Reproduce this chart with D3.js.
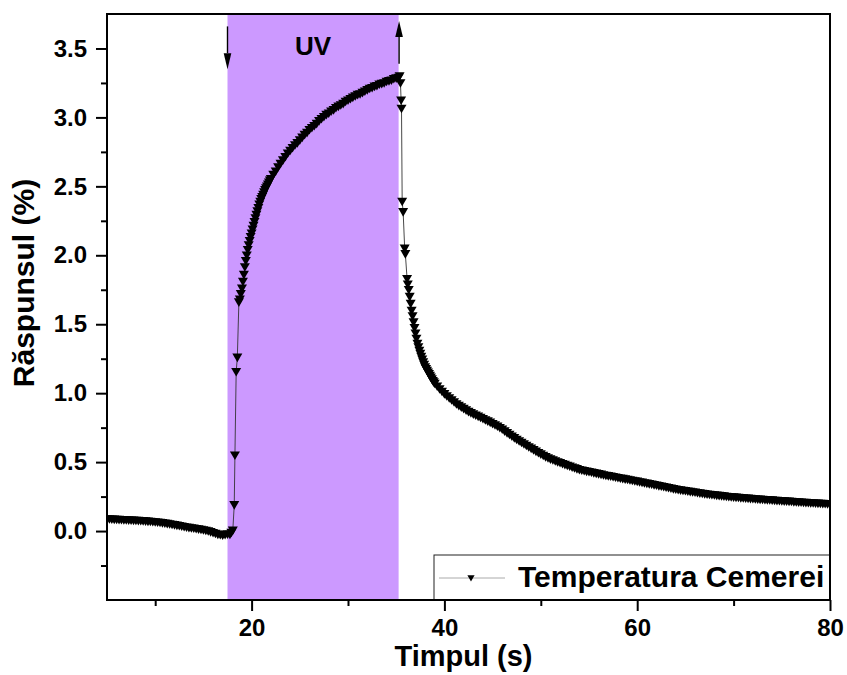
<html>
<head>
<meta charset="utf-8">
<script src="https://d3js.org/d3.v7.min.js"></script>
<style>
  body { margin: 0; background: #ffffff; }
  svg { display: block; font-family: "Liberation Sans", Arial, sans-serif; }
</style>
</head>
<body>
<svg id="chart"></svg>
<script>
// date: [timp (s), raspuns (%)]
var baseline = [[5,0.088],[5.25,0.087],[5.5,0.086],[5.75,0.085],[6,0.084],[6.25,0.083],[6.5,0.082],[6.75,0.081],
  [7,0.080],[7.25,0.079],[7.5,0.078],[7.75,0.0775],[8,0.077],[8.25,0.076],[8.5,0.075],[8.75,0.0735],
  [9,0.072],[9.25,0.0705],[9.5,0.069],[9.75,0.0675],[10,0.066],[10.25,0.064],[10.5,0.062],[10.75,0.0595],
  [11,0.057],[11.25,0.054],[11.5,0.051],[11.75,0.048],[12,0.045],[12.25,0.0415],[12.5,0.038],[12.75,0.0345],
  [13,0.031],[13.25,0.028],[13.5,0.025],[13.75,0.0225],[14,0.020],[14.25,0.017],[14.5,0.014],[14.75,0.011],
  [15,0.008],[15.25,0.004],[15.5,0.000],[15.75,-0.006],[16,-0.012],[16.25,-0.018],[16.5,-0.024],[16.75,-0.027],
  [17,-0.030],[17.25,-0.026],[17.5,-0.022],[17.75,-0.025],[17.9,-0.010],[18.05,0.005]];

var rise = [[18.2,0.19],[18.27,0.55],[18.4,1.155],[18.52,1.26],[18.68,1.66],[18.78,1.68],[18.88,1.72],
  [19.0,1.76],[19.1,1.81],[19.2,1.86],[19.3,1.915],[19.4,1.96],[19.5,2.00],[19.6,2.04],[19.7,2.075],
  [19.8,2.105],[19.9,2.135],[20.0,2.16],[20.1,2.188],[20.2,2.215],[20.3,2.243],[20.4,2.27],[20.5,2.295],
  [20.6,2.32],[20.7,2.345],[20.8,2.37],[20.9,2.39],[21.0,2.41],[21.1,2.425],[21.2,2.44],[21.3,2.458],
  [21.4,2.475],[21.5,2.488],[21.6,2.50],[21.7,2.515],[21.8,2.53],[21.9,2.543],[22.0,2.555],
  [22.25,2.585],[22.5,2.61],[22.75,2.64],
  [23.0,2.665],[23.25,2.69],[23.5,2.715],[23.75,2.74],[24.0,2.76],[24.25,2.78],[24.5,2.80],[24.75,2.815],
  [25.0,2.835],[25.25,2.855],[25.5,2.875],[25.75,2.89],[26.0,2.91],[26.25,2.925],[26.5,2.94],[26.75,2.955],
  [27.0,2.975],[27.25,2.99],[27.5,3.005],[27.75,3.02],[28.0,3.03],[28.25,3.045],[28.5,3.055],[28.75,3.07],
  [29.0,3.08],[29.25,3.09],[29.5,3.10],[29.75,3.115],[30.0,3.125],[30.25,3.135],[30.5,3.145],[30.75,3.155],
  [31.0,3.165],[31.25,3.17],[31.5,3.18],[31.75,3.19],[32.0,3.20],[32.25,3.21],[32.5,3.215],[32.75,3.225],
  [33.0,3.23],[33.25,3.24],[33.5,3.245],[33.75,3.25],[34.0,3.26],[34.25,3.265],[34.5,3.27],[34.75,3.28],
  [35.0,3.285],[35.25,3.29],[35.35,3.30]];

var decay = [[35.44,3.25],[35.51,3.125],[35.55,3.065],[35.62,2.39],[35.72,2.315],[35.88,2.05],[35.95,2.01],
  [36.13,1.83],[36.2,1.79],[36.3,1.75],[36.4,1.70],[36.5,1.65],[36.6,1.60],[36.7,1.56],[36.8,1.515],
  [36.9,1.475],[37.0,1.435],[37.1,1.397],[37.2,1.36],[37.3,1.334],[37.4,1.31],[37.5,1.287],[37.6,1.265],
  [37.7,1.245],[37.8,1.225],[37.9,1.207],[38.0,1.19],[38.1,1.177],[38.2,1.165],[38.3,1.152],[38.4,1.14],
  [38.5,1.127],[38.6,1.115],[38.7,1.102],[38.8,1.09],[38.9,1.08],[39.0,1.07],
  [39.25,1.05],[39.5,1.03],[39.75,1.012],[40.0,0.995],
  [40.25,0.98],[40.5,0.965],[40.75,0.95],[41.0,0.936],[41.25,0.922],[41.5,0.91],[41.75,0.899],[42.0,0.888],
  [42.25,0.877],[42.5,0.866],[42.75,0.857],[43.0,0.848],[43.25,0.840],[43.5,0.832],[43.75,0.824],[44.0,0.815],
  [44.25,0.806],[44.5,0.797],[44.75,0.788],[45.0,0.778],[45.25,0.769],[45.5,0.76],[45.75,0.749],
  [46,0.738],[46.25,0.725],[46.5,0.712],[46.75,0.70],[47,0.688],[47.25,0.676],[47.5,0.664],[47.75,0.653],
  [48,0.642],[48.25,0.631],[48.5,0.62],[48.75,0.61],[49,0.60],[49.25,0.589],[49.5,0.578],[49.75,0.568],
  [50,0.558],[50.25,0.548],[50.5,0.538],[50.75,0.53],[51,0.522],[51.25,0.515],[51.5,0.508],[51.75,0.501],
  [52,0.495],[52.25,0.488],[52.5,0.482],[52.75,0.476],[53,0.47],[53.25,0.463],[53.5,0.457],[53.75,0.451],
  [54,0.445],[54.25,0.441],[54.5,0.437],[54.75,0.433],[55,0.43],[55.25,0.426],[55.5,0.422],[55.75,0.418],
  [56,0.415],[56.25,0.411],[56.5,0.407],[56.75,0.403],[57,0.40],[57.25,0.397],[57.5,0.394],[57.75,0.39],
  [58,0.387],[58.25,0.383],[58.5,0.38],[58.75,0.377],[59,0.374],[59.25,0.37],[59.5,0.367],[59.75,0.363],
  [60,0.36],[60.25,0.356],[60.5,0.353],[60.75,0.349],[61,0.346],[61.25,0.342],[61.5,0.339],[61.75,0.335],
  [62,0.332],[62.25,0.328],[62.5,0.325],[62.75,0.321],[63,0.318],[63.25,0.314],[63.5,0.31],[63.75,0.306],
  [64,0.303],[64.25,0.30],[64.5,0.297],[64.75,0.294],[65,0.292],[65.25,0.289],[65.5,0.286],[65.75,0.283],
  [66,0.281],[66.25,0.278],[66.5,0.275],[66.75,0.272],[67,0.27],[67.25,0.267],[67.5,0.265],[67.75,0.263],
  [68,0.261],[68.25,0.259],[68.5,0.257],[68.75,0.255],[69,0.253],[69.25,0.251],[69.5,0.249],[69.75,0.247],
  [70,0.246],[70.25,0.244],[70.5,0.243],[70.75,0.241],[71,0.24],[71.25,0.238],[71.5,0.237],[71.75,0.235],
  [72,0.234],[72.25,0.232],[72.5,0.231],[72.75,0.23],[73,0.229],[73.25,0.227],[73.5,0.226],[73.75,0.225],
  [74,0.224],[74.25,0.222],[74.5,0.221],[74.75,0.22],[75,0.219],[75.25,0.217],[75.5,0.216],[75.75,0.215],
  [76,0.214],[76.25,0.212],[76.5,0.211],[76.75,0.21],[77,0.209],[77.25,0.207],[77.5,0.206],[77.75,0.205],
  [78,0.204],[78.25,0.203],[78.5,0.202],[78.75,0.201],[79,0.20],[79.25,0.199],[79.5,0.198],[79.75,0.197],
  [80,0.196]];

var uvStart = 17.5, uvEnd = 35.25;          // zona UV (s)
var arrows = [{t: 17.5, from: 3.66, to: 3.35},   // pornire UV
              {t: 35.3, from: 3.39, to: 3.70}];  // oprire UV

var xMajor = [20, 40, 60, 80];
var xMinor = [10, 30, 50, 70];
var yMajor = [0, 0.5, 1.0, 1.5, 2.0, 2.5, 3.0, 3.5];
var yMinor = [-0.25, 0.25, 0.75, 1.25, 1.75, 2.25, 2.75, 3.25];

var seriesName = "Temperatura Cemerei";
var xTitle = "Timpul (s)";
var yTitle = "Răspunsul (%)";

window.onload = function() {
  var W = 847, H = 675;
  var left = 107, right = 830, top = 14, bottom = 600;

  var svg = d3.select("#chart").attr("width", W).attr("height", H);

  var x = d3.scaleLinear().domain([5, 80]).range([left, right]);
  var y = d3.scaleLinear().domain([-0.5, 3.75]).range([bottom, top]);

  svg.append("clipPath").attr("id", "clip")
    .append("rect").attr("x", left).attr("y", top)
    .attr("width", right - left).attr("height", bottom - top);

  /* banda UV */
  svg.append("rect")
    .attr("x", x(uvStart)).attr("y", top)
    .attr("width", x(uvEnd) - x(uvStart)).attr("height", bottom - top)
    .attr("fill", "#cc99ff");

  var data = baseline.concat(rise, decay);
  var plot = svg.append("g").attr("clip-path", "url(#clip)");

  /* linia subtire dintre puncte */
  plot.append("path")
    .datum(data)
    .attr("fill", "none")
    .attr("stroke", "#333")
    .attr("stroke-width", 0.9)
    .attr("d", d3.line().x(d => x(d[0])).y(d => y(d[1])));

  /* markere triunghi in jos */
  var tri = "M-5,-3.8L5,-3.8L0,4.8Z";
  plot.selectAll("path.pt").data(data).enter()
    .append("path").attr("class", "pt")
    .attr("d", tri)
    .attr("transform", d => "translate(" + x(d[0]) + "," + y(d[1]) + ")")
    .attr("fill", "#000");

  /* sageti UV */
  arrows.forEach(function(a) {
    var x0 = x(a.t), y0 = y(a.from), y1 = y(a.to);
    var dir = y1 > y0 ? 1 : -1;
    var head = 16;
    svg.append("line")
      .attr("x1", x0).attr("y1", y0).attr("x2", x0).attr("y2", y1 - dir * head)
      .attr("stroke", "#000").attr("stroke-width", 1.4);
    svg.append("path")
      .attr("d", "M" + (x0 - 3.8) + "," + (y1 - dir * head) + "L" + (x0 + 3.8) + "," + (y1 - dir * head) + "L" + x0 + "," + y1 + "Z")
      .attr("fill", "#000");
  });

  svg.append("text")
    .attr("x", 313).attr("y", 55)
    .attr("text-anchor", "middle")
    .attr("font-size", 26).attr("font-weight", "bold")
    .text("UV");

  /* axe */
  svg.append("g").attr("transform", "translate(0," + bottom + ")")
    .call(d3.axisBottom(x).tickValues(xMajor).tickSize(11).tickPadding(8).tickFormat(d3.format("d")));
  svg.append("g").attr("transform", "translate(0," + bottom + ")")
    .call(d3.axisBottom(x).tickValues(xMinor).tickSize(6).tickFormat(""));
  svg.append("g").attr("transform", "translate(" + left + ",0)")
    .call(d3.axisLeft(y).tickValues(yMajor).tickSize(11).tickPadding(9).tickFormat(d3.format(".1f")));
  svg.append("g").attr("transform", "translate(" + left + ",0)")
    .call(d3.axisLeft(y).tickValues(yMinor).tickSize(6).tickFormat(""));

  svg.selectAll(".domain").remove();
  svg.selectAll(".tick line").attr("stroke", "#000").attr("stroke-width", 2);
  svg.selectAll(".tick text")
    .attr("font-family", "'Liberation Sans', Arial, sans-serif")
    .attr("font-size", 24).attr("font-weight", "bold").attr("fill", "#000");

  /* legenda */
  var lg = svg.append("g");
  lg.append("rect")
    .attr("x", 434).attr("y", 555).attr("width", right - 434).attr("height", bottom - 555)
    .attr("fill", "#fff").attr("stroke", "#222").attr("stroke-width", 1);
  lg.append("line")
    .attr("x1", 439).attr("x2", 505).attr("y1", 578).attr("y2", 578)
    .attr("stroke", "#aaa").attr("stroke-width", 1);
  lg.append("path").attr("d", "M-3.6,-2.8L3.6,-2.8L0,3.6Z")
    .attr("transform", "translate(471,578)").attr("fill", "#000");
  lg.append("text")
    .attr("x", 518).attr("y", 587)
    .attr("font-size", 30).attr("font-weight", "bold")
    .text(seriesName);

  /* cadrul */
  svg.append("rect")
    .attr("x", left).attr("y", top).attr("width", right - left).attr("height", bottom - top)
    .attr("fill", "none").attr("stroke", "#000").attr("stroke-width", 2);

  /* titluri axe */
  svg.append("text")
    .attr("x", (left + right) / 2 - 5).attr("y", 666)
    .attr("text-anchor", "middle")
    .attr("font-size", 29).attr("font-weight", "bold")
    .text(xTitle);
  svg.append("text")
    .attr("transform", "translate(34,283) rotate(-90)")
    .attr("text-anchor", "middle")
    .attr("font-size", 30).attr("font-weight", "bold")
    .text(yTitle);
}
</script>
</body>
</html>
